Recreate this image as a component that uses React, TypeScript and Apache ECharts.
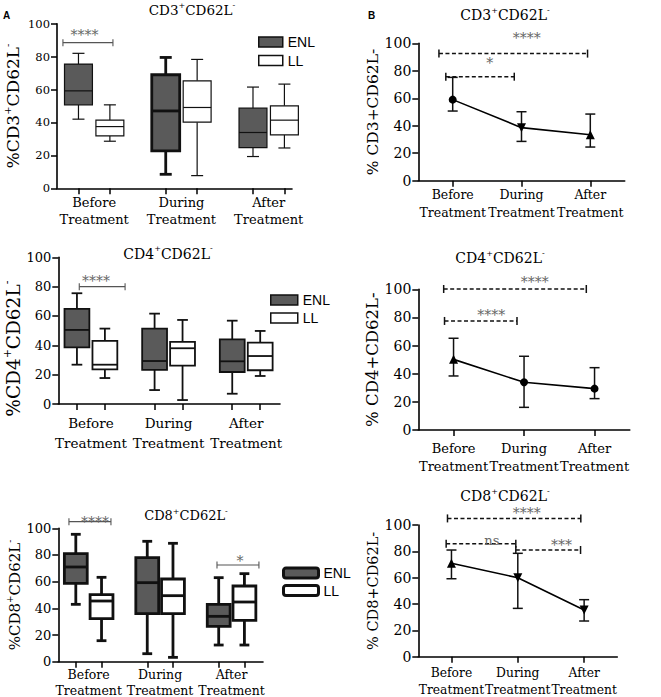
import React, { useEffect, useRef } from "react";
import * as echarts from "echarts";

// ---------- data ----------
const timePoints = ["Before\nTreatment", "During\nTreatment", "After\nTreatment"];
const groupNames = ["ENL", "LL"];
const yTicks = [0, 20, 40, 60, 80, 100];

// box plots: [min, Q1, median, Q3, max] for Before / During / After
const cd3ENL = [[42, 50.7, 59.2, 75.5, 82], [8.5, 22.7, 47, 69, 79.5], [19.3, 24.7, 33.9, 48.7, 61.5]];
const cd3LL = [[28.6, 31.8, 37.5, 41.4, 50.7], [7.7, 40.2, 49.1, 65.3, 78.3], [24.5, 32.5, 41.4, 50.1, 63.3]];
const cd4ENL = [[26.8, 38.6, 50.5, 64.8, 75.5], [9.5, 23.2, 29.3, 51.4, 61.6], [7, 21.8, 29.1, 44.1, 56.8]];
const cd4LL = [[17.7, 23.6, 26.8, 43, 51.4], [2.7, 26.1, 38, 42.3, 57.3], [19.1, 23, 32.7, 41.8, 49.8]];
const cd8ENL = [[43, 58.75, 71, 81, 95.5], [6, 36, 59.25, 78, 90.25], [12.5, 26.5, 34, 43, 63]];
const cd8LL = [[15.75, 32.25, 45.5, 50.25, 63.25], [3.25, 36, 49.5, 62, 88.75], [12.5, 31, 44.75, 56.75, 66]];

// line plots: mean with error bars
const cd3Mean = [59, 38.6, 33.5];
const cd3Upper = [75.2, 50.2, 48.5];
const cd3Lower = [50.7, 28.6, 24.5];
const cd4Mean = [50.2, 33.9, 29.4];
const cd4Upper = [65.2, 52.4, 44.3];
const cd4Lower = [38.4, 16.1, 22.3];
const cd8Mean = [70.9, 60, 35.4];
const cd8Upper = [81, 78.5, 43.3];
const cd8Lower = [59.2, 36.7, 27.1];

const cd3Markers = ["circle", "down", "up"];
const cd4Markers = ["up", "circle", "circle"];
const cd8Markers = ["up", "down", "down"];

// significance brackets (x in category units, y in %)
const cd3BoxSig = [{ from: -0.358, to: 0.215, y: 88.5, text: "****", at: -0.11 }];
const cd4BoxSig = [{ from: -0.15, to: 0.44, y: 80, text: "****", at: 0.066 }];
const cd8BoxSig = [
  { from: -0.276, to: 0.312, y: 105, text: "****", at: 0.088 },
  { from: 1.796, to: 2.383, y: 72.5, text: "*", at: 2.118 },
];
const cd3LineSig = [
  { from: -0.2, to: 1.96, y: 92.5, text: "****", at: 1.076 },
  { from: -0.1, to: 0.895, y: 75.7, text: "*", at: 0.54 },
];
const cd4LineSig = [
  { from: -0.14, to: 1.883, y: 100.2, text: "****", at: 1.15 },
  { from: -0.128, to: 0.9, y: 77.5, text: "****", at: 0.535 },
];
const cd8LineSig = [
  { from: -0.06, to: 1.95, y: 105, text: "****", at: 1.136 },
  { from: -0.08, to: 0.97, y: 85.8, text: "ns", at: 0.608 },
  { from: 0.97, to: 1.946, y: 81, text: "***", at: 1.66 },
];

// ---------- styles / layout ----------
const SERIF = '"DejaVu Serif", serif';
const SANS = '"Liberation Sans", Arial, sans-serif';
const ENL_FILL = "#5a5a5a";
const OFF = 0.18;
const BOXW = 0.32;
const CAP = 0.43;

const rich = (size: number) => ({
  n: { fontFamily: SERIF, fontSize: size, color: "#000", lineHeight: Math.round(size * 1.25) },
  s: {
    fontFamily: SERIF,
    fontSize: Math.round(size * 0.6),
    color: "#000",
    verticalAlign: "top",
    lineHeight: Math.round(size * 0.7),
  },
});
const sup = (a: string, b: string) => `{n|${a}}{s|+}{n|${b}}{s|-}`;

const boxPanels = [
  {
    marker: "CD3", data: [cd3ENL, cd3LL], sig: cd3BoxSig,
    grid: { left: 57, top: 23.7, width: 235, height: 164.6 }, xMin: -0.426, xMax: 2.267,
    widths: [[1.2, 2.8, 1.2], [1.2, 1.2, 1.2]], tickFont: 11.5, labFont: 13, labLH: 17, labMargin: 6,
    nameFont: 17, nameGap: 34, namePad: [0, 0, 0, 0], title: [192, 10], titleFont: 13.5,
    sigDy: [-8], legend: { left: 258, top: 35, w: 24, bw: 1.5, gap: 4.5, icon: "rect" },
  },
  {
    marker: "CD4", data: [cd4ENL, cd4LL], sig: cd4BoxSig,
    grid: { left: 58.3, top: 257.3, width: 221.7, height: 146.7 }, xMin: -0.42, xMax: 2.435,
    widths: [[1.8, 1.8, 1.8], [1.8, 1.8, 1.8]], tickFont: 13, labFont: 13.5, labLH: 20, labMargin: 9,
    nameFont: 18.5, nameGap: 33, namePad: [0, 36, 0, 0], title: [168, 253.5], titleFont: 14,
    sigDy: [-6], legend: { left: 270, top: 293, w: 27, bw: 1.5, gap: 4, icon: "rect" },
  },
  {
    marker: "CD8", data: [cd8ENL, cd8LL], sig: cd8BoxSig,
    grid: { left: 58.3, top: 528.3, width: 204.7, height: 133.4 }, xMin: -0.425, xMax: 2.44,
    widths: [[2.8, 2.8, 2.8], [2.8, 2.8, 2.8]], tickFont: 13, labFont: 12.5, labLH: 16, labMargin: 5,
    nameFont: 15, nameGap: 32, namePad: [0, 0, 0, 0], title: [186, 515], titleFont: 13,
    sigDy: [0, -4], legend: { left: 282, top: 566, w: 35, bw: 3, gap: 3.5, icon: "roundRect" },
  },
];

const linePanels = [
  {
    marker: "CD3", mean: cd3Mean, upper: cd3Upper, lower: cd3Lower, shapes: cd3Markers, sig: cd3LineSig,
    grid: { left: 418.3, top: 43.3, width: 206.4, height: 137.4 }, labFont: 12.5, labLH: 18, labMargin: 5,
    nameFont: 15.5, nameGap: 35, title: [505, 15], sigDy: [-16, -14],
  },
  {
    marker: "CD4", mean: cd4Mean, upper: cd4Upper, lower: cd4Lower, shapes: cd4Markers, sig: cd4LineSig,
    grid: { left: 418.3, top: 289.3, width: 211.5, height: 140.7 }, labFont: 13, labLH: 18, labMargin: 9,
    nameFont: 16.5, nameGap: 35, title: [500, 258], sigDy: [-7, -6],
  },
  {
    marker: "CD8", mean: cd8Mean, upper: cd8Upper, lower: cd8Lower, shapes: cd8Markers, sig: cd8LineSig,
    grid: { left: 418.3, top: 525, width: 199, height: 131.7 }, labFont: 12.3, labLH: 17, labMargin: 8,
    nameFont: 14.5, nameGap: 37, title: [505, 496], sigDy: [-5, -3, -5],
  },
];

function boxRender(sign: number, fill: string, widths: number[]) {
  return (params: any, api: any) => {
    const cat = api.value(0);
    const lw = widths[params.dataIndex];
    const x = api.coord([cat + sign * OFF, 0])[0];
    const w = api.size([BOXW, 0])[0];
    const ys = [1, 2, 3, 4, 5].map((k) => api.coord([cat, api.value(k)])[1]);
    const [yMin, yQ1, yMed, yQ3, yMax] = ys;
    const c = (w * CAP) / 2;
    const ls = { stroke: "#111", lineWidth: lw, fill: "none" };
    return {
      type: "group",
      children: [
        { type: "line", shape: { x1: x, y1: yMax, x2: x, y2: yQ3 }, style: ls },
        { type: "line", shape: { x1: x, y1: yQ1, x2: x, y2: yMin }, style: ls },
        { type: "line", shape: { x1: x - c, y1: yMax, x2: x + c, y2: yMax }, style: ls },
        { type: "line", shape: { x1: x - c, y1: yMin, x2: x + c, y2: yMin }, style: ls },
        {
          type: "rect",
          shape: { x: x - w / 2, y: yQ3, width: w, height: yQ1 - yQ3 },
          style: { fill, stroke: "#111", lineWidth: lw },
        },
        { type: "line", shape: { x1: x - w / 2, y1: yMed, x2: x + w / 2, y2: yMed }, style: ls },
      ],
    };
  };
}

function bracketRender(list: any[], dys: number[], dashed: boolean) {
  return (params: any, api: any) => {
    const b = list[params.dataIndex];
    const [x1, y] = api.coord([b.from, b.y]);
    const x2 = api.coord([b.to, b.y])[0];
    const xt = api.coord([b.at, b.y])[0];
    const color = dashed ? "#111" : "#555";
    const lw = dashed ? 1.5 : 1.1;
    const t = dashed ? 4 : 3.5;
    return {
      type: "group",
      children: [
        {
          type: "line",
          shape: { x1, y1: y, x2, y2: y },
          style: { stroke: color, lineWidth: lw, lineDash: dashed ? [4, 2.5] : null },
        },
        { type: "line", shape: { x1, y1: y - t, x2: x1, y2: y + t }, style: { stroke: color, lineWidth: lw } },
        { type: "line", shape: { x1: x2, y1: y - t, x2, y2: y + t }, style: { stroke: color, lineWidth: lw } },
        {
          type: "text",
          x: xt,
          y: y + dys[params.dataIndex],
          style: {
            text: b.text,
            fill: "#666",
            font: `${b.text === "ns" ? 13 : 14}px ${SERIF}`,
            align: "center",
            verticalAlign: "middle",
          },
        },
      ],
    };
  };
}

function errRender(params: any, api: any) {
  const cat = api.value(0);
  const x = api.coord([cat, 0])[0];
  const yl = api.coord([cat, api.value(1)])[1];
  const yh = api.coord([cat, api.value(2)])[1];
  const c = 5;
  const st = { stroke: "#111", lineWidth: 1.5 };
  return {
    type: "group",
    children: [
      { type: "line", shape: { x1: x, y1: yl, x2: x, y2: yh }, style: st },
      { type: "line", shape: { x1: x - c, y1: yl, x2: x + c, y2: yl }, style: st },
      { type: "line", shape: { x1: x - c, y1: yh, x2: x + c, y2: yh }, style: st },
    ],
  };
}

function buildOption() {
  const grid: any[] = [];
  const xAxis: any[] = [];
  const extraX: any[] = [];
  const yAxis: any[] = [];
  const series: any[] = [];
  const legend: any[] = [];
  const graphic: any[] = [];

  const axisLine = { show: true, onZero: false, lineStyle: { color: "#000", width: 1.6 } };
  const labelFmt = (v: number) => timePoints[Math.round(v)];

  boxPanels.forEach((p, i) => {
    grid.push({ ...p.grid, outerBoundsMode: "none", containLabel: false });
    const tickVals: number[] = [];
    timePoints.forEach((_, k) => tickVals.push(k - OFF, k + OFF));
    xAxis.push({
      type: "value", gridIndex: i, min: p.xMin, max: p.xMax,
      axisLine,
      axisTick: { show: true, length: 6, customValues: tickVals, lineStyle: { color: "#000", width: 1.5 } },
      axisLabel: {
        customValues: [0, 1, 2], hideOverlap: false,
        formatter: labelFmt,
        fontFamily: SERIF, fontSize: p.labFont, lineHeight: p.labLH, margin: p.labMargin, color: "#000",
      },
      splitLine: { show: false },
    });
    yAxis.push({
      type: "value", gridIndex: i, min: 0, max: 100, interval: 20,
      axisLine,
      axisTick: { show: true, length: 6, lineStyle: { color: "#000", width: 1.5 } },
      axisLabel: { fontFamily: SERIF, fontSize: p.tickFont, color: "#000", margin: 7 },
      splitLine: { show: false },
      name: `{n|%${p.marker}}{s|+}{n|CD62L}{s|-}`,
      nameLocation: "middle", nameRotate: 90, nameGap: p.nameGap,
      nameTextStyle: { rich: rich(p.nameFont), padding: p.namePad },
    });
    p.data.forEach((arr, g) => {
      series.push({
        type: "custom", name: groupNames[g], xAxisIndex: i, yAxisIndex: i,
        itemStyle: { color: g === 0 ? ENL_FILL : "#fff", borderColor: "#111" },
        data: arr.map((d, k) => [k, ...d]),
        encode: { x: 0, y: [1, 2, 3, 4, 5] },
        renderItem: boxRender(g === 0 ? -1 : 1, g === 0 ? ENL_FILL : "#fff", p.widths[g]),
      });
    });
    series.push({
      type: "custom", xAxisIndex: i, yAxisIndex: i, silent: true,
      data: p.sig.map((b) => [b.from, b.y]),
      encode: { x: 0, y: 1 },
      renderItem: bracketRender(p.sig, p.sigDy, false),
    });
    const L = p.legend;
    legend.push({
      left: L.left, top: L.top, orient: "vertical", selectedMode: false, padding: 0,
      itemWidth: L.w, itemHeight: 10, itemGap: L.gap,
      textStyle: { fontFamily: SANS, fontSize: 14, color: "#000", lineHeight: 14 },
      data: [
        { name: "ENL", icon: L.icon, itemStyle: { color: ENL_FILL, borderColor: "#111", borderWidth: L.bw } },
        { name: "LL", icon: L.icon, itemStyle: { color: "#fff", borderColor: "#111", borderWidth: L.bw } },
      ],
    });
    graphic.push({
      type: "text", x: p.title[0], y: p.title[1],
      style: { text: sup(p.marker, "CD62L"), rich: rich(p.titleFont), align: "center", verticalAlign: "middle" },
    });
  });

  linePanels.forEach((p, j) => {
    const i = j + 3;
    grid.push({ ...p.grid, outerBoundsMode: "none", containLabel: false });
    const lab = {
      hideOverlap: false,
      formatter: labelFmt,
      fontFamily: SERIF, fontSize: p.labFont, lineHeight: p.labLH, margin: p.labMargin, color: "#000",
    };
    // outer time points on the main axis
    xAxis.push({
      type: "value", gridIndex: i, min: -0.5, max: 2.5, position: "bottom", offset: 0,
      axisLine,
      axisTick: { show: true, length: 6, customValues: [0, 1, 2], lineStyle: { color: "#000", width: 1.5 } },
      axisLabel: { ...lab, customValues: [0, 2] },
      splitLine: { show: false },
    });
    // middle time point on an overlaid axis (avoids auto-hiding of touching labels)
    extraX.push({
      type: "value", gridIndex: i, min: -0.5, max: 2.5, position: "bottom", offset: 0,
      axisLine: { show: false, onZero: false },
      axisTick: { show: false },
      axisLabel: { ...lab, customValues: [1] },
      splitLine: { show: false },
    });
    yAxis.push({
      type: "value", gridIndex: i, min: 0, max: 100, interval: 20,
      axisLine,
      axisTick: { show: true, length: 6, lineStyle: { color: "#000", width: 1.5 } },
      axisLabel: { fontFamily: SERIF, fontSize: 14, color: "#000", margin: 7 },
      splitLine: { show: false },
      name: `% ${p.marker}+CD62L-`,
      nameLocation: "middle", nameRotate: 90, nameGap: p.nameGap,
      nameTextStyle: { fontFamily: SERIF, fontSize: p.nameFont, color: "#000" },
    });
    series.push({
      type: "custom", xAxisIndex: i, yAxisIndex: i, silent: true,
      data: p.mean.map((_, k) => [k, p.lower[k], p.upper[k]]),
      encode: { x: 0, y: [1, 2] },
      renderItem: errRender,
    });
    series.push({
      type: "line", xAxisIndex: i, yAxisIndex: i, silent: true, z: 5,
      data: p.mean.map((m, k) => ({
        value: [k, m],
        symbol: p.shapes[k] === "circle" ? "circle" : "triangle",
        symbolRotate: p.shapes[k] === "down" ? 180 : 0,
        symbolSize: p.shapes[k] === "circle" ? 8 : 9,
      })),
      lineStyle: { color: "#000", width: 1.6 },
      itemStyle: { color: "#000" },
    });
    series.push({
      type: "custom", xAxisIndex: i, yAxisIndex: i, silent: true,
      data: p.sig.map((b) => [b.from, b.y]),
      encode: { x: 0, y: 1 },
      renderItem: bracketRender(p.sig, p.sigDy, true),
    });
    graphic.push({
      type: "text", x: p.title[0], y: p.title[1],
      style: { text: sup(p.marker, "CD62L"), rich: rich(14), align: "center", verticalAlign: "middle" },
    });
  });

  graphic.push({
    type: "text", x: 6.5, y: 15,
    style: { text: "A", font: `bold 10px ${SANS}`, fill: "#000", align: "center", verticalAlign: "middle" },
  });
  graphic.push({
    type: "text", x: 371.5, y: 15,
    style: { text: "B", font: `bold 10px ${SANS}`, fill: "#000", align: "center", verticalAlign: "middle" },
  });

  return {
    animation: false,
    backgroundColor: "#fff",
    textStyle: { fontFamily: SERIF },
    grid, xAxis: [...xAxis, ...extraX], yAxis, series, legend, graphic,
  };
}

export default function App() {
  const ref = useRef<HTMLDivElement>(null);
  useEffect(() => {
    if (!ref.current) return;
    const chart = echarts.init(ref.current, null, { renderer: "svg" });
    chart.setOption(buildOption() as any);
    return () => chart.dispose();
  }, []);
  return <div ref={ref} style={{ position: "fixed", left: 0, top: 0, width: 661, height: 697 }} />;
}
